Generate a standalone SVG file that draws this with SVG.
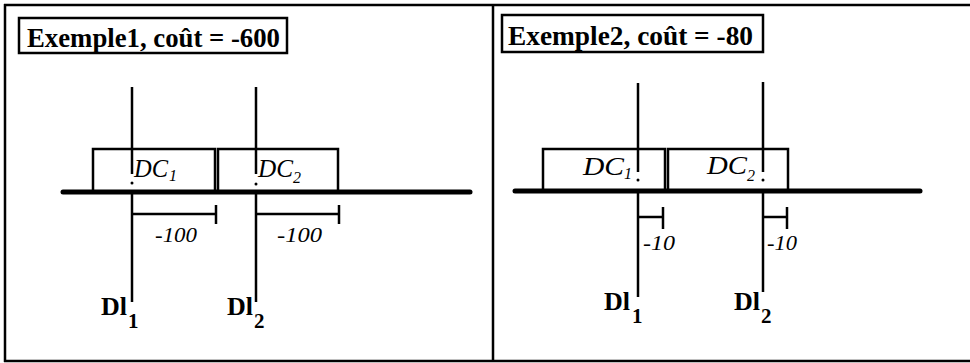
<svg xmlns="http://www.w3.org/2000/svg" width="970" height="363" viewBox="0 0 970 363">
<style>
.frame{stroke:#000;stroke-width:2.5;fill:none}
.box{fill:#fff;stroke:#000;stroke-width:2.5}
.axis{stroke:#000;stroke-width:5;stroke-linecap:round}
.ln{stroke:#000;stroke-width:2.5;fill:none}
.title{font-family:"Liberation Serif",serif;font-weight:bold;font-size:28px}
.dc{font-family:"Liberation Serif",serif;font-style:italic;font-size:25px}
.sub{font-family:"Liberation Serif",serif;font-style:italic;font-size:16px}
.di{font-family:"Liberation Serif",serif;font-weight:bold;font-size:26px}
.disub{font-family:"Liberation Serif",serif;font-weight:bold;font-size:21px}
.num{font-family:"Liberation Serif",serif;font-style:italic;font-size:20px}
</style>
<rect width="970" height="363" fill="#fff"/>
<g id="frame">
<line class="frame" x1="4" y1="5" x2="970" y2="5"/>
<line class="frame" x1="4" y1="361" x2="970" y2="361"/>
<line class="frame" x1="5" y1="4" x2="5" y2="362"/>
<line class="frame" x1="493" y1="4" x2="493" y2="362"/>
</g>
<g id="panel1">
<g id="title1"><rect class="box" x="19" y="18" width="268" height="35"/><text class="title" x="27" y="47" textLength="253" lengthAdjust="spacingAndGlyphs">Exemple1, coût = -600</text></g>
<g id="p1-dc1"><rect class="box" x="93" y="149" width="122" height="43"/><text class="dc" x="134" y="177" textLength="34" lengthAdjust="spacingAndGlyphs">DC</text><text class="sub" x="169" y="181">1</text></g>
<g id="p1-dc2"><rect class="box" x="218" y="149" width="120" height="43"/><text class="dc" x="258" y="177" textLength="35" lengthAdjust="spacingAndGlyphs">DC</text><text class="sub" x="293" y="183" font-size="18">2</text></g>
<g id="p1-axis"><line class="axis" x1="63" y1="192" x2="470" y2="192"/></g>
<g id="p1-di1"><text class="di" x="101" y="315">Dl</text><text class="disub" x="128" y="328">1</text></g>
<g id="p1-di2"><text class="di" x="227" y="315">Dl</text><text class="disub" x="254" y="328">2</text></g>
<text class="num" x="155" y="242" textLength="42" lengthAdjust="spacingAndGlyphs">-100</text>
<text class="num" x="277" y="242" textLength="45" lengthAdjust="spacingAndGlyphs">-100</text>
</g>
<g id="panel2">
<g id="title2"><rect class="box" x="502" y="15" width="261" height="37"/><text class="title" x="508" y="45" textLength="245" lengthAdjust="spacingAndGlyphs">Exemple2, coût = -80</text></g>
<g id="p2-dc1"><rect class="box" x="543" y="149" width="122" height="42"/><text class="dc" x="583" y="175" textLength="41" lengthAdjust="spacingAndGlyphs">DC</text><text class="sub" x="624" y="179">1</text></g>
<g id="p2-dc2"><rect class="box" x="668" y="149" width="120" height="42"/><text class="dc" x="707" y="174" textLength="40" lengthAdjust="spacingAndGlyphs">DC</text><text class="sub" x="747" y="181" font-size="18">2</text></g>
<g id="p2-axis"><line class="axis" x1="515" y1="191" x2="920" y2="191"/></g>
<g id="p2-di1"><text class="di" x="604" y="310">Dl</text><text class="disub" x="632" y="323">1</text></g>
<g id="p2-di2"><text class="di" x="734" y="310">Dl</text><text class="disub" x="761" y="323">2</text></g>
<text class="num" x="643" y="250" textLength="32" lengthAdjust="spacingAndGlyphs">-10</text>
<text class="num" x="767" y="250" textLength="30" lengthAdjust="spacingAndGlyphs">-10</text>
</g>
<g id="connectors">
<line class="ln" x1="132" y1="87" x2="132" y2="174"/><circle cx="132" cy="183" r="1.5"/>
<line class="ln" x1="132" y1="192" x2="132" y2="302"/>
<polyline class="ln" points="132,214 216,214"/><line class="ln" x1="216" y1="205" x2="216" y2="224"/>
<line class="ln" x1="256" y1="87" x2="256" y2="174"/><circle cx="256" cy="184" r="1.5"/>
<line class="ln" x1="256" y1="192" x2="256" y2="302"/>
<polyline class="ln" points="256,214 339,214"/><line class="ln" x1="339" y1="205" x2="339" y2="224"/>
<line class="ln" x1="638" y1="83" x2="638" y2="172"/><circle cx="638" cy="180" r="1.5"/>
<line class="ln" x1="638" y1="191" x2="638" y2="297"/>
<polyline class="ln" points="638,217 663,217"/><line class="ln" x1="663" y1="207" x2="663" y2="229"/>
<line class="ln" x1="763" y1="82" x2="763" y2="172"/><circle cx="763" cy="180" r="1.5"/>
<line class="ln" x1="763" y1="191" x2="763" y2="292"/>
<polyline class="ln" points="763,217 787,217"/><line class="ln" x1="787" y1="207" x2="787" y2="229"/>
</g>
</svg>
